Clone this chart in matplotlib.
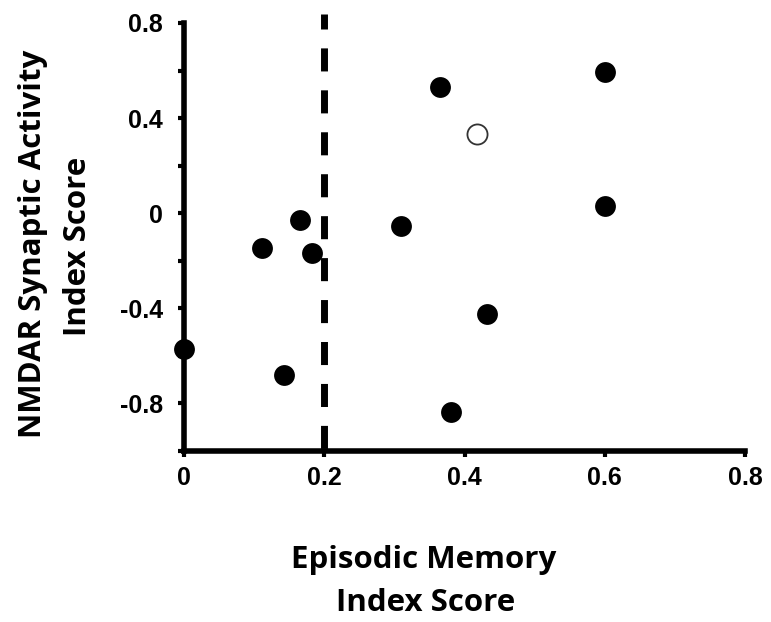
import matplotlib
matplotlib.use("Agg")
import matplotlib.pyplot as plt
from matplotlib.ticker import MultipleLocator

# data
memory_score = [0.0, 0.143, 0.111, 0.165, 0.183, 0.310, 0.365, 0.600, 0.600, 0.432, 0.381]
nmdar_score = [-0.57, -0.68, -0.147, -0.03, -0.168, -0.055, 0.53, 0.594, 0.03, -0.425, -0.838]
open_memory = [0.418]
open_nmdar = [0.333]
cutoff = 0.2

xticks = [0, 0.2, 0.4, 0.6, 0.8]
xticklabels = ["0", "0.2", "0.4", "0.6", "0.8"]
yticks = [-0.8, -0.4, 0, 0.4, 0.8]
yticklabels = ["-0.8", "-0.4", "0", "0.4", "0.8"]

plt.rcParams["lines.scale_dashes"] = False
tick_font = {"family": "Liberation Sans", "weight": "bold", "size": 18}
label_font = {"family": "Open Sans", "weight": "bold", "size": 22.5}

fig = plt.figure(figsize=(7.71, 6.22), dpi=100)
ax = fig.add_axes([184 / 771, 1 - 451 / 622, 561 / 771, 428 / 622])

ax.scatter(memory_score, nmdar_score, s=225, c="black", linewidths=0,
           clip_on=False, zorder=4)
ax.scatter(open_memory, open_nmdar, s=210, facecolors="white",
           edgecolors="#333333", linewidths=1.3, clip_on=False, zorder=4)

# cut-off line, runs a bit above the top of the axis
ax.plot([cutoff, cutoff], [0.838, -1.0], color="black", lw=5,
        linestyle=(5.8, (16.6, 13.6)), clip_on=False, zorder=3)

ax.set_xlim(0, 0.8)
ax.set_ylim(-1.0, 0.8)
for side in ["top", "right"]:
    ax.spines[side].set_visible(False)
for side in ["left", "bottom"]:
    ax.spines[side].set_linewidth(4)

ax.set_xticks(xticks)
ax.set_xticklabels(xticklabels, fontdict=tick_font)
ax.set_yticks(yticks)
ax.set_yticklabels(yticklabels, fontdict=tick_font)
ax.yaxis.set_minor_locator(MultipleLocator(0.2))
ax.tick_params(axis="both", which="both", direction="out", length=4, width=3)
ax.tick_params(axis="y", pad=11)
ax.tick_params(axis="x", pad=7)

fig.text(424 / 771, 1 - 560 / 622, "Episodic Memory", ha="center", va="center", **label_font)
fig.text(426 / 771, 1 - 603 / 622, "Index Score", ha="center", va="center", **label_font)
fig.text(33 / 771, 1 - 244 / 622, "NMDAR Synaptic Activity", ha="center", va="center",
         rotation=90, **label_font)
fig.text(78 / 771, 1 - 246 / 622, "Index Score", ha="center", va="center",
         rotation=90, **label_font)

fig.savefig("out.png", dpi=100)
